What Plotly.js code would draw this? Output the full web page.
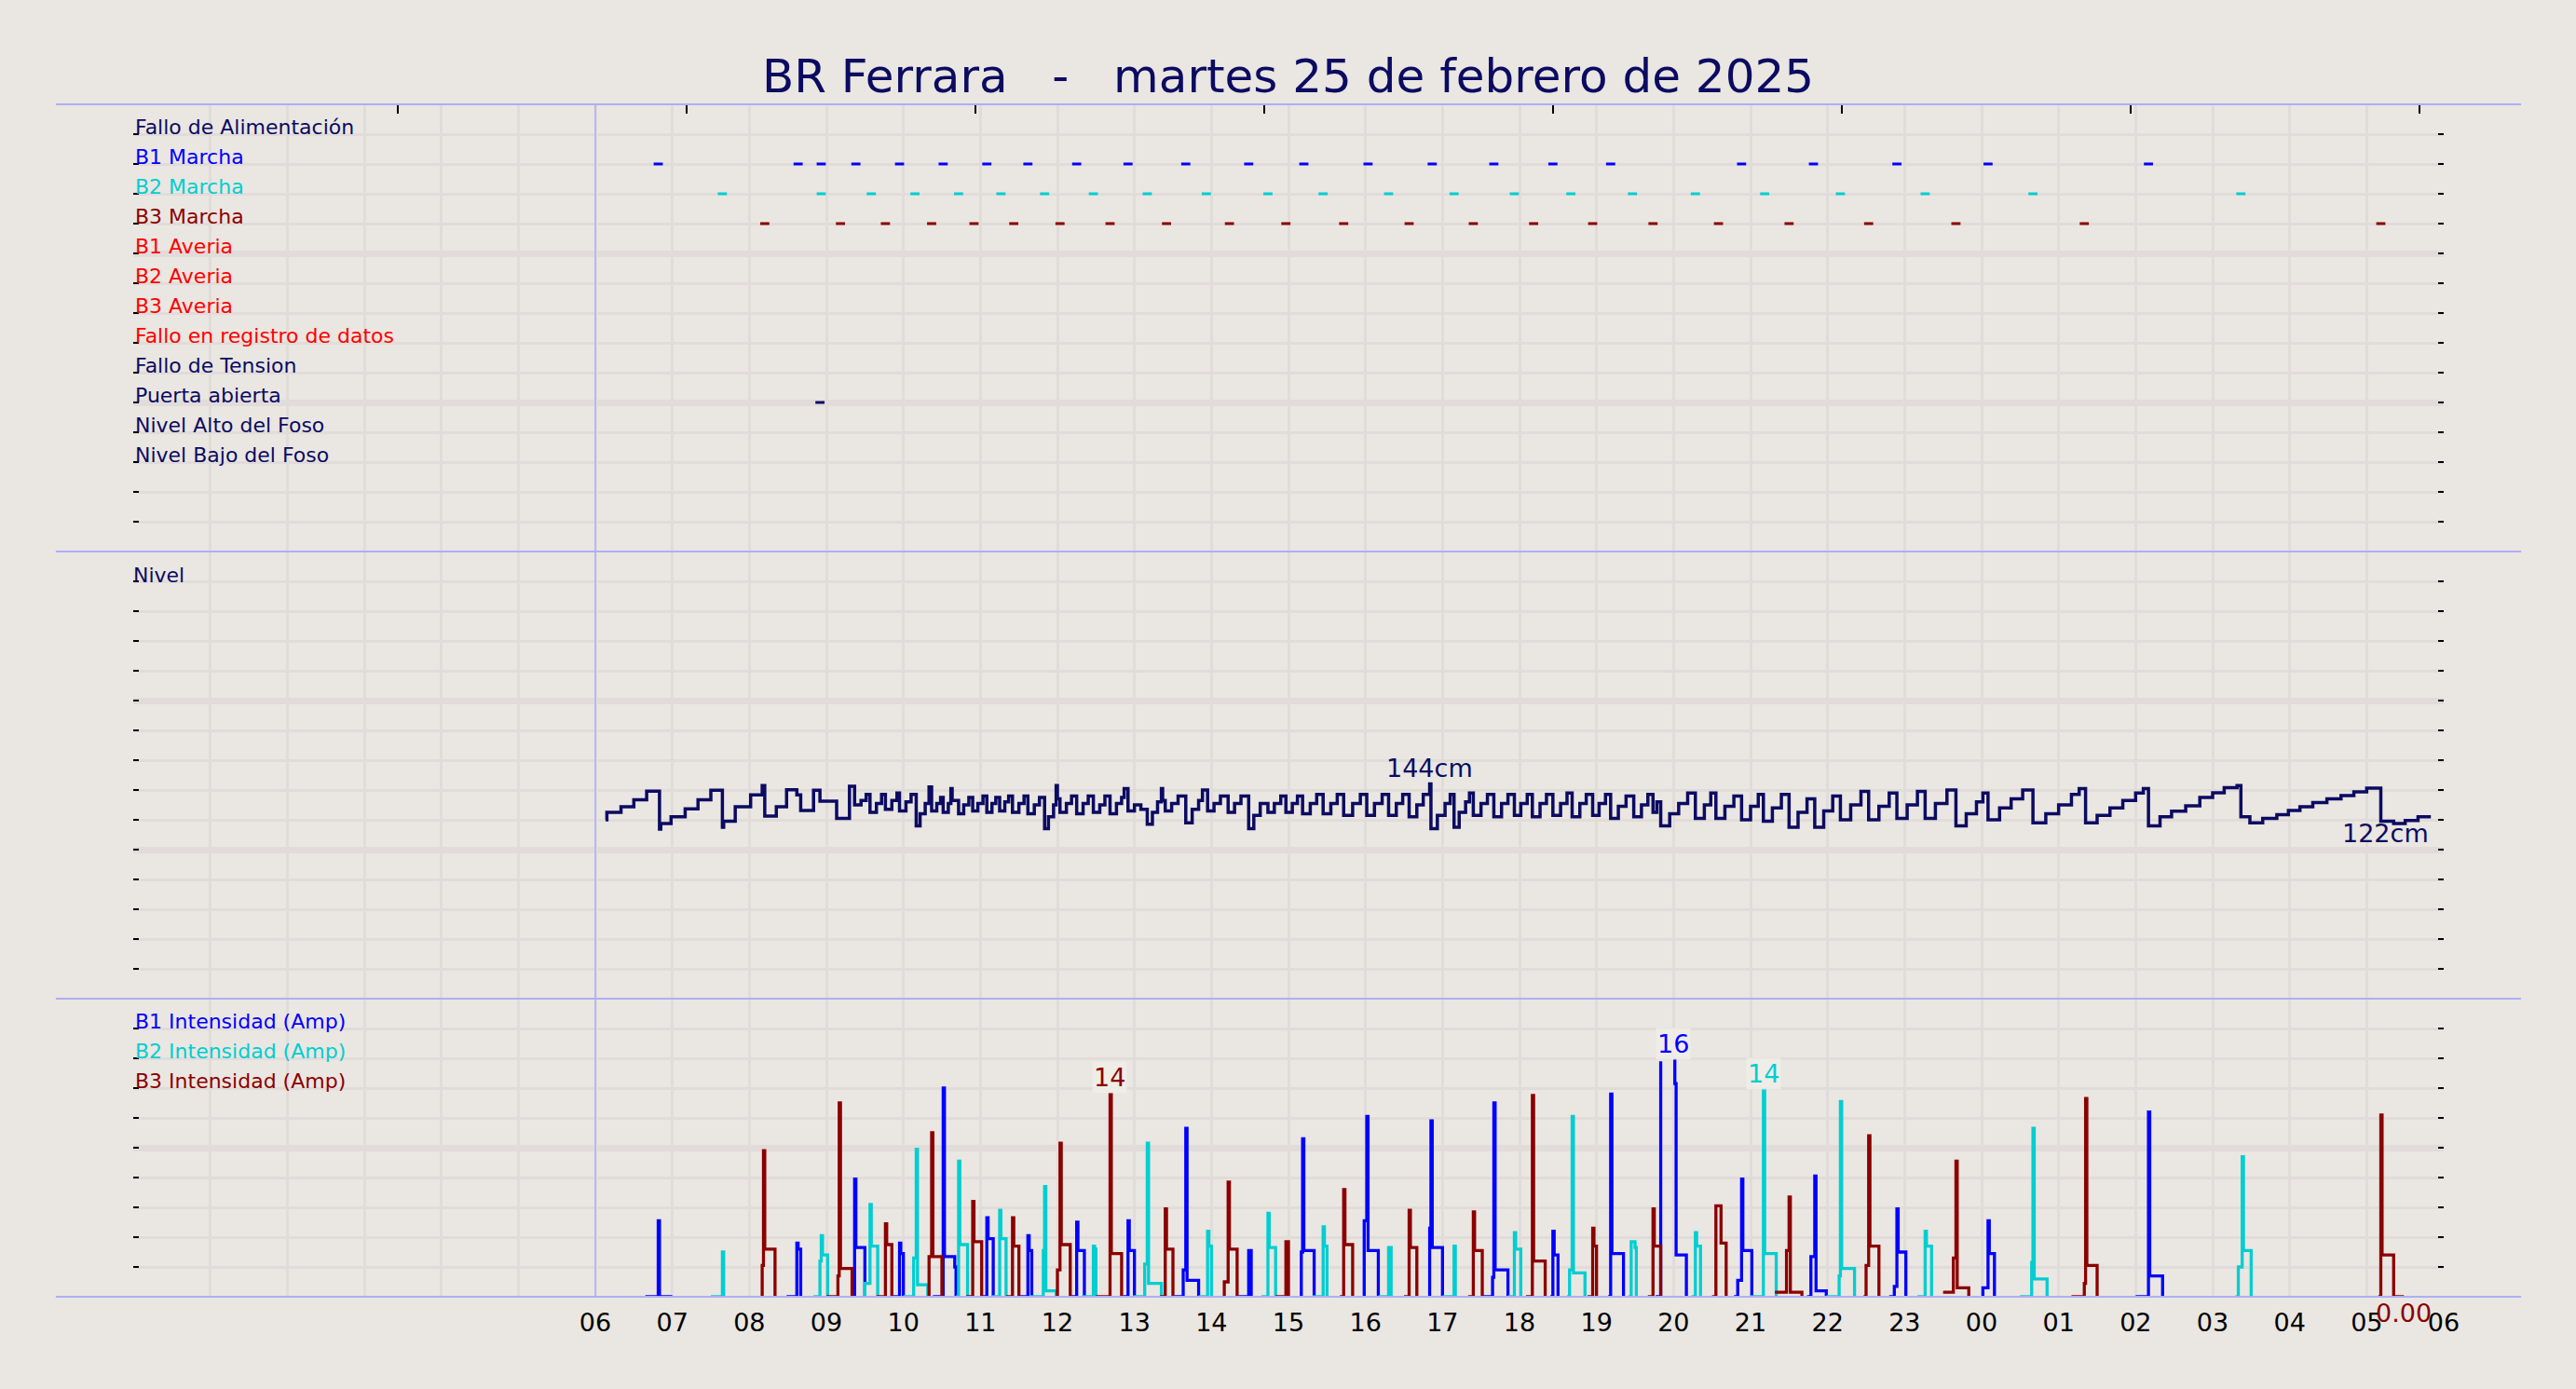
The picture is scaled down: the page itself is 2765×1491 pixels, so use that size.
<!DOCTYPE html>
<html><head><meta charset="utf-8">
<script src="https://cdn.plot.ly/plotly-3.0.1.min.js"></script>
<style>html,body{margin:0;padding:0;background:#EAE6E1;}#chart{width:2765px;height:1491px;}</style>
</head><body><div id="chart"></div>
<script>
// ---------------- DATA ----------------
const chartTitle = 'BR Ferrara&nbsp;&nbsp;&nbsp;-&nbsp;&nbsp;&nbsp;martes 25 de febrero de 2025';
const hourLabels = ['','','','','','','06','07','08','09','10','11','12','13','14','15','16','17','18','19','20','21','22','23','00','01','02','03','04','05','06'];
const topTicks = ['2025-02-25 03:26','2025-02-25 07:11','2025-02-25 10:56','2025-02-25 14:41','2025-02-25 18:26','2025-02-25 22:11','2025-02-26 01:56','2025-02-26 05:41'];

const eventLabels = ['Fallo de Alimentación','B1 Marcha','B2 Marcha','B3 Marcha','B1 Averia','B2 Averia','B3 Averia','Fallo en registro de datos','Fallo de Tension','Puerta abierta','Nivel Alto del Foso','Nivel Bajo del Foso'];
const b1Marcha = ['06:49','08:38','08:56','09:23','09:57','10:31','11:05','11:37','12:15','12:55','13:40','14:29','15:12','16:02','16:52','17:40','18:26','19:11','20:53','21:49','22:54','00:05','02:10'];
const b2Marcha = ['07:39','08:56','09:35','10:09','10:43','11:16','11:50','12:28','13:10','13:56','14:44','15:27','16:18','17:09','17:56','18:40','19:28','20:17','21:11','22:10','23:16','00:40','03:22'];
const b3Marcha = ['08:12','09:11','09:46','10:22','10:55','11:26','12:02','12:41','13:25','14:14','14:58','15:43','16:34','17:24','18:11','18:57','19:44','20:35','21:30','22:32','23:40','01:20','05:11'];
const puertaAbierta = ['08:55'];

// Nivel (cm) - step series
const levelTimes = ['06:08','06:09','06:20','06:30','06:40','06:50','06:51','06:59','07:10','07:20','07:30','07:39','07:40','07:49','08:01','08:10','08:12','08:21','08:29','08:37','08:40','08:50','08:55','09:08','09:18',
'09:22','09:27','09:31','09:34','09:39','09:43','09:46','09:51','09:55','09:57','10:02','10:06','10:10','10:13','10:17','10:20','10:22','10:26','10:29','10:31','10:35','10:37','10:38',
'10:43','10:47','10:51','10:54','10:58','11:02','11:05','11:09','11:12','11:15','11:19','11:22','11:25','11:30','11:34','11:37','11:42','11:46','11:50','11:53','11:57','11:59','12:00',
'12:02','12:07','12:11','12:15','12:20','12:24','12:28','12:33','12:37','12:41','12:46','12:50','12:52','12:55','13:00','13:05','13:10','13:14','13:18','13:21','13:22',
'13:24','13:29','13:34','13:40','13:45','13:50','13:53','13:57','14:02','14:07','14:13','14:18','14:23','14:29','14:33','14:38','14:44','14:49','14:54','14:58','15:03','15:07',
'15:11','15:17','15:22','15:27','15:33','15:38','15:43','15:50','15:56','16:01','16:07','16:13','16:18','16:24','16:29','16:34','16:40','16:45','16:50',
'16:51','16:56','17:02','17:06','17:09','17:13','17:18','17:21','17:24','17:30','17:35','17:40','17:46','17:51','17:56','18:01','18:06','18:10','18:16','18:21',
'18:26','18:32','18:37','18:41','18:47','18:52','18:57','19:02','19:07','19:11','19:17','19:23','19:29','19:35','19:40','19:44','19:47',
'19:50','19:57','20:04','20:11','20:17','20:24','20:29','20:33','20:40','20:47','20:53','21:00','21:06','21:10','21:17','21:24','21:30','21:37','21:44',
'21:50','21:57','22:04','22:10','22:18','22:26','22:32','22:40','22:48','22:54','23:02','23:10','23:16','23:24','23:33','23:40','23:48','23:56','00:01',
'00:05','00:14','00:23','00:32','00:40','00:50','01:00','01:10','01:16','01:21','01:30','01:40','01:50','02:00','02:06','02:10',
'02:19','02:28','02:39','02:50','03:00','03:09','03:19','03:22','03:29','03:39','03:50','03:59','04:08','04:18','04:29','04:40','04:50','05:00','05:11','05:21','05:30','05:40','05:50'];
const levelValues = [120,125,128.8,133.5,139.2,113.8,117.5,122,127.3,133.5,139.8,115,119,128.8,136.7,143,122.5,128.8,140.2,136.7,126.3,139.8,132.5,121,142.5,
130,133,137,125,131,137,127,133,138,126,132,137,116,124,131,142,126,131,135,125,131,141,133,
124,130,135,126,131,136,125,131,135,126,132,136,125,131,136,124,130,135,114,122,130,143,134,
125,131,136,124,131,136,125,130,136,124,131,135,141,126,130,127,117,125,132,141,133,
126,131,136,118,127,133,140,126,131,136,125,131,136,114,123,131,125,131,136,125,131,136,
124,131,137,124,131,137,123,131,137,123,131,137,123,131,137,122,130,137,144,
114,123,131,137,115,125,132,138,123,131,137,122,131,137,123,131,137,122,131,137,
123,131,138,122,131,137,123,131,137,121,129,136,122,130,137,125,132,
116,124,131,138,121,130,138,121,129,136,120,129,137,119,128,137,115,125,134,
115,126,136,120,130,139,120,129,138,121,130,139,121,131,140,116,124,132,138,
120,128,134,140,118,124,130,137,141,118,123,128,133,138,141,116,
122,125.8,129.4,135,138.1,141.5,143,122,117.9,121,123.5,126.3,128.8,131.5,134,136.3,138.8,141.3,119,117.5,119.6,122,122];

// Intensidades (A) - step series, null = gap between runs
const b1Times = ['06:39','06:49','06:50','07:00',null,'08:29','08:37','08:38','08:40',null,'09:21','09:22','09:23','09:30',null,'09:52','09:57','09:58','10:00',null,
'10:23','10:31','10:32','10:40','10:41',null,'11:01','11:05','11:06','11:10',null,'11:31','11:37','11:38','11:40',null,'12:10','12:15','12:16','12:21',null,
'12:51','12:55','12:56','13:00',null,'13:31','13:38','13:40','13:41','13:50',null,'14:21','14:29','14:31',null,'15:09','15:10','15:11','15:12','15:20',null,
'15:58','15:59','16:01','16:02','16:10',null,'16:49','16:50','16:51','16:52','17:00',null,'17:31','17:39','17:40','17:41','17:51',null,'18:24','18:26','18:27','18:30',null,
'19:09','19:11','19:12','19:21',null,'19:46','19:50',null,'20:00','20:01','20:02','20:10',null,'20:47','20:50','20:53','20:54','21:01',null,
'21:44','21:47','21:50','21:51','21:59',null,'22:48','22:52','22:54','22:55','23:01',null,'00:00','00:01','00:05','00:06','00:10',null,'02:00','02:10','02:11','02:21'];
const b1Amps = [0,5.1,0,0,null,0,3.6,3.2,0,null,0,7.9,3.3,0,null,0,3.6,2.9,0,null,
0,14.0,2.7,2.0,0,null,0,5.3,3.9,0,null,0,4.1,3.1,0,null,0,5.0,3.1,0,null,
0,5.1,3.1,0,null,0,1.8,11.3,1.1,0,null,0,3.1,0,null,0,3.0,10.6,3.1,0,null,
0,5.1,12.1,3.1,0,null,0,4.6,11.8,3.3,0,null,0,1.3,13.0,1.8,0,null,0,4.4,2.8,0,null,
0,13.6,2.9,0,null,0,15.8,null,15.9,14.3,2.8,0,null,0,1.1,7.9,3.1,0,null,
0,2.7,8.1,0.4,0,null,0,0.7,5.9,3.0,0,null,0,0.6,5.1,2.9,0,null,0,12.4,1.4,0];

const b2Times = ['07:30','07:39','07:40',null,'08:50','08:55','08:56','08:57','09:01',null,'09:29','09:30','09:34','09:35','09:40',null,'10:00','10:08','10:10','10:11','10:19',null,
'10:41','10:43','10:44','10:50',null,'11:09','11:15','11:16','11:20',null,'11:39','11:49','11:50','11:51','11:59',null,'12:19','12:28','12:29','12:30',null,
'12:59','13:08','13:10','13:11','13:21',null,'13:50','13:57','13:58','14:00',null,'14:39','14:44','14:45','14:50',null,'15:19','15:27','15:28','15:30',null,
'16:10','16:18','16:20',null,'17:00','17:09','17:10',null,'17:51','17:56','17:57','18:01',null,'18:37','18:39','18:41','18:42','18:51',null,
'19:25','19:27','19:30','19:31',null,'20:14','20:17','20:18','20:21',null,'21:00','21:10','21:11','21:20',null,'21:59','22:09','22:10','22:11','22:21',null,
'23:10','23:16','23:17','23:21',null,'00:30','00:39','00:40','00:41','00:51',null,'03:18','03:20','03:23','03:24','03:30'];
const b2Amps = [0,3.0,0,null,0,2.4,4.1,2.8,0,null,0,0.9,6.2,3.4,0,null,0,2.6,9.9,0.8,0,null,
0,9.1,3.5,0,null,0,5.8,3.9,0,null,0,3.1,7.4,0.4,0,null,0,3.4,3.2,0,null,
0,2.2,10.3,0.9,0,null,0,4.4,3.4,0,null,0,5.6,3.3,0,null,0,4.7,3.4,0,null,
0,3.3,0,null,0,3.4,0,null,0,4.3,3.2,0,null,0,1.8,12.1,1.6,0,null,
0,3.7,3.3,0,null,0,4.3,3.4,0,null,0,13.9,2.9,0,null,0,1.4,13.1,1.9,0,null,
0,4.4,3.4,0,null,0,2.3,11.3,1.2,0,null,0,2.0,9.4,3.1,0];

const b3Times = ['08:09','08:10','08:11','08:12','08:20',null,'09:00','09:09','09:10','09:11','09:20',null,'09:39','09:46','09:47','09:51',null,'10:19','10:20','10:22','10:23','10:30',null,
'10:49','10:54','10:55','11:01',null,'11:20','11:25','11:26','11:30',null,'11:59','12:00','12:02','12:03','12:10',null,'12:30','12:41','12:42','12:50',null,
'13:20','13:24','13:25','13:30',null,'14:09','14:10','14:13','14:14','14:20',null,'14:50','14:58','15:00',null,'15:40','15:43','15:44','15:50',null,
'16:30','16:34','16:35','16:40',null,'17:20','17:24','17:25','17:31',null,'18:05','18:10','18:11','18:20',null,'18:53','18:57','18:58','19:00',null,
'19:40','19:44','19:45','19:50',null,'20:30','20:33','20:37','20:41',null,'21:19','21:28','21:30','21:31','21:40',null,'22:28','22:30','22:32','22:33','22:40',null,
'23:30','23:38','23:40','23:41','23:50',null,'01:10','01:20','01:21','01:22','01:30',null,'05:09','05:11','05:12','05:21','05:29'];
const b3Amps = [0,2.1,9.8,3.2,0,null,0,1.4,13.0,1.9,0,null,0,4.9,3.5,0,null,0,2.7,11.0,2.7,0,null,
0,6.4,3.7,0,null,0,5.3,3.4,0,null,0,1.8,10.3,3.5,0,null,0,13.6,2.9,0,null,
0,5.9,3.2,0,null,0,1.0,7.7,3.2,0,null,0,3.7,0,null,0,7.2,3.5,0,null,
0,5.8,3.3,0,null,0,5.7,3.1,0,null,0,13.5,2.4,0,null,0,4.6,3.4,0,null,
0,5.9,3.4,0,null,0,6.1,3.6,0,null,0.3,3.1,6.7,0.3,0,null,0,2.1,10.8,3.4,0,null,
0.3,2.6,9.1,0.6,0,null,0,0.9,13.3,2.1,0,null,0,12.2,2.8,0,0];

// ---------------- STYLE ----------------
const NAVY='#0B0B62', BLUE='#0000FF', CYAN='#00CED1', DRED='#8B0000', RED='#FF0000';
const BG='#EAE6E1', GRID='#E1DCDA', LAV='#AEAEF6';
const FONT='DejaVu Sans';
const eventColors=[NAVY,BLUE,CYAN,DRED,RED,RED,RED,RED,NAVY,NAVY,NAVY,NAVY];
const eventTimes=[[],b1Marcha,b2Marcha,b3Marcha,[],[],[],[],[],puertaAbierta,[],[]];

function T(hm){ if(hm===null) return null; const h=parseInt(hm.slice(0,2),10); return (h<6?'2025-02-26 ':'2025-02-25 ')+hm; }
function H(i){ const d=25+Math.floor(i/24), h=i%24; return '2025-02-'+d+' '+String(h).padStart(2,'0')+':00'; }
const xRange=[H(0),H(30)];
const hourVals=hourLabels.map((_,i)=>H(i));
const rowVal=i=>14-i;

const traces=[];
eventLabels.forEach((lab,i)=>{
  if(!eventTimes[i].length) return;
  traces.push({type:'scatter',mode:'markers',xaxis:'x3',yaxis:'y3',x:eventTimes[i].map(T),y:eventTimes[i].map(()=>rowVal(i)),
    marker:{symbol:'line-ew',size:7,line:{width:3,color:eventColors[i]},color:eventColors[i]},hoverinfo:'skip'});
});
traces.push({type:'scatter',mode:'lines',xaxis:'x',yaxis:'y2',x:levelTimes.map(T),y:levelValues,line:{color:NAVY,width:3.5,shape:'hv'},hoverinfo:'skip'});
[[b1Times,b1Amps,BLUE],[b2Times,b2Amps,CYAN],[b3Times,b3Amps,DRED]].forEach(([t,a,c])=>{
  traces.push({type:'scatter',mode:'lines',xaxis:'x',yaxis:'y',x:t.map(T),y:a,connectgaps:false,line:{color:c,width:3.3,shape:'hv'},hoverinfo:'skip'});
});

function yax(domain,range,major,minor){
  return {domain,range,tick0:0,dtick:major,showgrid:true,gridcolor:GRID,gridwidth:7,zeroline:false,showline:false,
    showticklabels:false,ticks:'inside',ticklen:6,tickwidth:2,tickcolor:'#000',mirror:'ticks',fixedrange:true,
    minor:{tick0:0,dtick:minor,showgrid:true,gridcolor:GRID,gridwidth:3,ticks:'inside',ticklen:6,tickwidth:2,tickcolor:'#000'}};
}

const ann=[];
eventLabels.forEach((lab,i)=>ann.push({xref:'paper',yref:'y3',x:0,y:rowVal(i),text:lab,showarrow:false,xanchor:'left',yanchor:'bottom',yshift:-7,
  font:{family:FONT,size:22,color:eventColors[i]}}));
ann.push({xref:'paper',yref:'y2',x:0,y:280,text:'Nivel',showarrow:false,xanchor:'left',yanchor:'bottom',yshift:-8,xshift:-2,font:{family:FONT,size:22,color:NAVY}});
[['B1 Intensidad (Amp)',BLUE,18],['B2 Intensidad (Amp)',CYAN,16],['B3 Intensidad (Amp)',DRED,14]].forEach(([t,c,v])=>
  ann.push({xref:'paper',yref:'y',x:0,y:v,text:t,showarrow:false,xanchor:'left',yanchor:'bottom',yshift:-7,font:{family:FONT,size:22,color:c}}));

function argmax(a){let k=0;a.forEach((v,i)=>{if(v!==null&&v>a[k])k=i;});return k;}
const lm=argmax(levelValues);
ann.push({xref:'x',yref:'y2',x:T(levelTimes[lm]),y:levelValues[lm],text:Math.round(levelValues[lm])+'cm',showarrow:false,xanchor:'center',yanchor:'bottom',font:{family:FONT,size:27,color:NAVY}});
const ll=levelValues.length-1;
ann.push({xref:'x',yref:'y2',x:T(levelTimes[ll]),y:levelValues[ll],text:Math.round(levelValues[ll])+'cm',showarrow:false,xanchor:'right',yanchor:'top',font:{family:FONT,size:27,color:NAVY}});
[[b1Times,b1Amps,BLUE],[b2Times,b2Amps,CYAN],[b3Times,b3Amps,DRED]].forEach(([t,a,c])=>{
  const k=argmax(a);
  ann.push({xref:'x',yref:'y',x:T(t[k]),y:a[k],text:String(Math.round(a[k])),showarrow:false,xanchor:'center',yanchor:'bottom',bgcolor:'rgba(240,237,233,0.85)',font:{family:FONT,size:27,color:c}});
});
const lb=b3Amps.length-1;
ann.push({xref:'x',yref:'y',x:T(b3Times[lb]),y:b3Amps[lb],text:b3Amps[lb].toFixed(2),showarrow:false,xanchor:'center',yanchor:'top',font:{family:FONT,size:27,color:DRED}});

const shapes=[];
[0,0.25,0.625,1].forEach(y=>shapes.push({type:'line',xref:'paper',yref:'paper',x0:-0.0335,x1:1.0335,y0:y,y1:y,line:{color:LAV,width:2}}));
shapes.push({type:'line',xref:'x',yref:'paper',x0:H(6),x1:H(6),y0:0,y1:1,line:{color:LAV,width:1.5}});

const layout={
  width:2765,height:1491,paper_bgcolor:BG,plot_bgcolor:BG,showlegend:false,
  margin:{l:143,r:142,t:112,b:99,pad:0},
  font:{family:FONT,color:'#000'},
  title:{text:chartTitle,font:{family:FONT,size:50,color:NAVY},x:0.5,xanchor:'center',y:1-81/1491,yref:'container',yanchor:'middle'},
  xaxis:{type:'date',range:xRange,anchor:'y',tickmode:'array',tickvals:hourVals,ticktext:hourLabels,showgrid:true,gridcolor:GRID,gridwidth:3,
    ticks:'outside',ticklen:4,tickcolor:'rgba(0,0,0,0)',zeroline:false,showline:false,tickfont:{family:FONT,size:27,color:'#000'},fixedrange:true},
  xaxis3:{type:'date',range:xRange,matches:'x',anchor:'y3',side:'top',tickmode:'array',tickvals:topTicks,ticks:'inside',ticklen:10,tickwidth:2,tickcolor:'#000',
    showticklabels:false,showgrid:false,zeroline:false,showline:false,fixedrange:true,
    minor:{tickmode:'linear',tick0:H(0),dtick:3600000,showgrid:true,gridcolor:GRID,gridwidth:3,ticks:''}},
  yaxis:yax([0,0.25],[0,20],10,2),
  yaxis2:yax([0.25,0.625],[0,300],100,20),
  yaxis3:yax([0.625,1],[0,15],5,1),
  annotations:ann,shapes:shapes
};
Plotly.newPlot('chart',traces,layout,{staticPlot:true,displayModeBar:false});
</script></body></html>
